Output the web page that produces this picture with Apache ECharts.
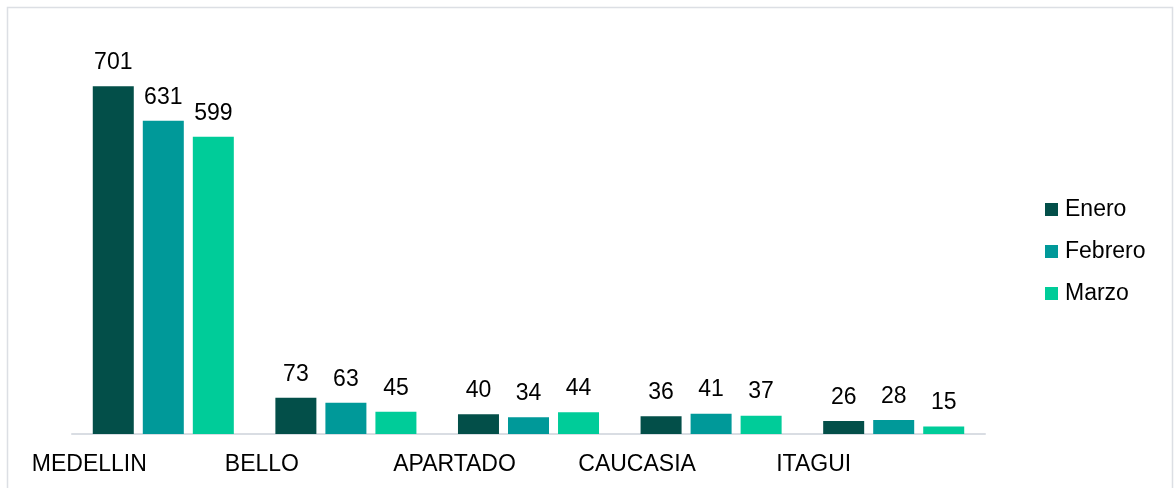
<!DOCTYPE html>
<html>
<head>
<meta charset="utf-8">
<script src="https://cdn.jsdelivr.net/npm/echarts@6.0.0/dist/echarts.min.js"></script>
<style>
    html, body { margin: 0; padding: 0; background: #fff; }
    #chart { width: 1176px; height: 488px; }
</style>
</head>
<body>
<div id="chart"></div>
<script>
    // municipios y conteos por mes
    var municipios = ['MEDELLIN', 'BELLO', 'APARTADO', 'CAUCASIA', 'ITAGUI'];
    var enero = [701, 73, 40, 36, 26];
    var febrero = [631, 63, 34, 41, 28];
    var marzo = [599, 45, 44, 37, 15];

    var fuente = 'Liberation Sans, Arial, sans-serif';
    // corrimiento a la izquierda de cada etiqueta (como en el original de Excel)
    var corrimiento = [148, 168, 148, 148, 160];

    function serie(nombre, datos, color) {
        return {
            name: nombre,
            type: 'bar',
            data: datos,
            barWidth: 41,
            barGap: '22%',
            itemStyle: { color: color },
            label: {
                show: true,
                position: 'top',
                distance: 12,
                color: '#000',
                fontFamily: fuente,
                fontSize: 23
            }
        };
    }

    var rich = {};
    corrimiento.forEach(function (p, i) {
        rich['m' + i] = { fontFamily: fuente, fontSize: 23, color: '#000', padding: [0, p, 0, 0] };
    });

    var chart = echarts.init(document.getElementById('chart'));
    var option = {
        animation: false,
        graphic: [{
            type: 'rect',
            shape: { x: 7.5, y: 7.5, width: 1165, height: 500 },
            style: { fill: 'none', stroke: '#dcdfe4', lineWidth: 1.5 },
            silent: true
        }],
        legend: {
            orient: 'vertical',
            left: 1040,
            top: 193,
            itemWidth: 13,
            itemHeight: 13,
            itemGap: 19,
            icon: 'rect',
            textStyle: { fontFamily: fuente, fontSize: 23, color: '#000', padding: [0, 0, 0, 2] },
            data: ['Enero', 'Febrero', 'Marzo']
        },
        grid: { left: 72, right: 191, top: 37, bottom: 54 },
        xAxis: {
            type: 'category',
            data: municipios,
            axisTick: { show: false },
            axisLine: { lineStyle: { color: '#d9dde3', width: 2 } },
            axisLabel: {
                interval: 0,
                margin: 19,
                color: '#000',
                fontFamily: fuente,
                fontSize: 23,
                formatter: function (v, i) { return '{m' + i + '|' + v + '}'; },
                rich: rich
            }
        },
        yAxis: {
            type: 'value',
            min: 0,
            max: 800,
            show: false,
            splitLine: { show: false }
        },
        series: [
            serie('Enero', enero, '#034f49'),
            serie('Febrero', febrero, '#009999'),
            serie('Marzo', marzo, '#00cc99')
        ]
    };
    chart.setOption(option, true);
    window.addEventListener('resize', chart.resize);
</script>
</body>
</html>
